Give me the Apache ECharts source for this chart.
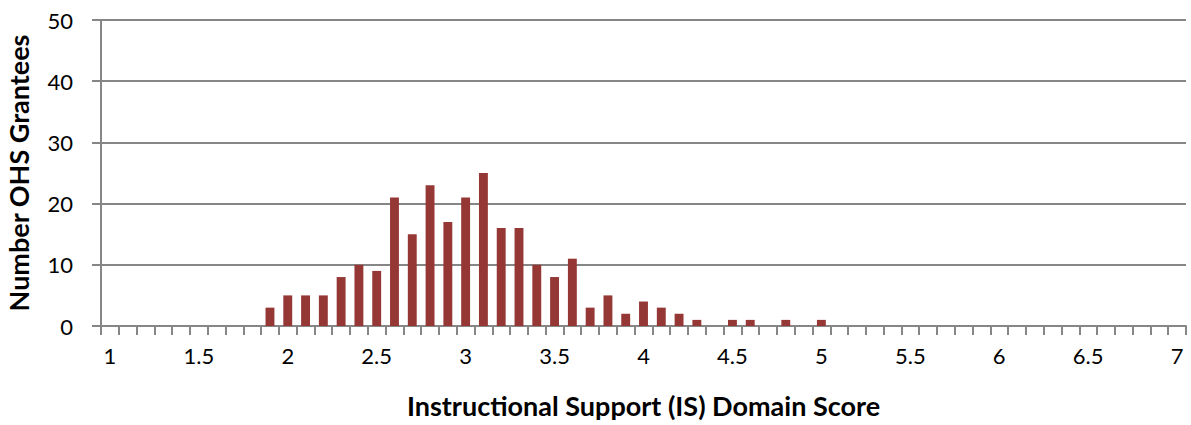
<!DOCTYPE html>
<html>
<head>
<meta charset="utf-8">
<script src="https://cdn.jsdelivr.net/npm/echarts@6/dist/echarts.min.js"></script>
<style>
  html, body { margin: 0; padding: 0; background: #fff; }
  #chart { width: 1191px; height: 425px; }
</style>
</head>
<body>
<div id="chart"></div>
<script>
// scores 1.0 .. 7.0 in steps of 0.1
const scores = ['1', '1.1', '1.2', '1.3', '1.4', '1.5', '1.6', '1.7', '1.8', '1.9',
  '2', '2.1', '2.2', '2.3', '2.4', '2.5', '2.6', '2.7', '2.8', '2.9',
  '3', '3.1', '3.2', '3.3', '3.4', '3.5', '3.6', '3.7', '3.8', '3.9',
  '4', '4.1', '4.2', '4.3', '4.4', '4.5', '4.6', '4.7', '4.8', '4.9',
  '5', '5.1', '5.2', '5.3', '5.4', '5.5', '5.6', '5.7', '5.8', '5.9',
  '6', '6.1', '6.2', '6.3', '6.4', '6.5', '6.6', '6.7', '6.8', '6.9', '7']

const grantees = [0, 0, 0, 0, 0, 0, 0, 0, 0, 3,
  5, 5, 5, 8, 10, 9, 21, 15, 23, 17,
  21, 25, 16, 16, 10, 8, 11, 3, 5, 2,
  4, 3, 2, 1, 0, 1, 1, 0, 1, 0,
  1, 0, 0, 0, 0, 0, 0, 0, 0, 0,
  0, 0, 0, 0, 0, 0, 0, 0, 0, 0, 0]

const font = 'Lato, "Open Sans", sans-serif'
const gray = '#868686'

const chart = echarts.init(document.getElementById('chart'), null, { renderer: 'svg' })

chart.setOption({
  animation: false,
  backgroundColor: '#ffffff',
  grid: { left: 101, right: 5, top: 20, bottom: 99, containLabel: false, outerBoundsMode: 'none' },
  xAxis: {
    type: 'category',
    data: scores,
    boundaryGap: true,
    name: 'Instructional Support (IS) Domain Score',
    nameLocation: 'middle',
    nameGap: 66,
    nameTextStyle: { fontFamily: font, fontSize: 27, fontWeight: 'bold', color: '#000' },
    axisLine: { lineStyle: { color: gray, width: 2 } },
    axisTick: { show: true, interval: 0, length: 9, lineStyle: { color: gray, width: 2 } },
    axisLabel: { interval: 4, margin: 18, fontFamily: font, fontSize: 22, color: '#000' }
  },
  yAxis: {
    type: 'value',
    min: 0,
    max: 50,
    interval: 10,
    name: 'Number OHS Grantees',
    nameLocation: 'middle',
    nameGap: 69,
    nameTextStyle: { fontFamily: font, fontSize: 27, lineHeight: 28, fontWeight: 'bold', color: '#000' },
    axisLine: { show: true, lineStyle: { color: gray, width: 2 } },
    axisTick: { show: true, length: 9, lineStyle: { color: gray, width: 2 } },
    axisLabel: { margin: 28, fontFamily: font, fontSize: 22, color: '#000' },
    splitLine: { lineStyle: { color: gray, width: 2 } }
  },
  series: [{
    type: 'bar',
    data: grantees,
    barWidth: '50%',
    itemStyle: { color: '#953735' }
  }]
})
</script>
</body>
</html>
